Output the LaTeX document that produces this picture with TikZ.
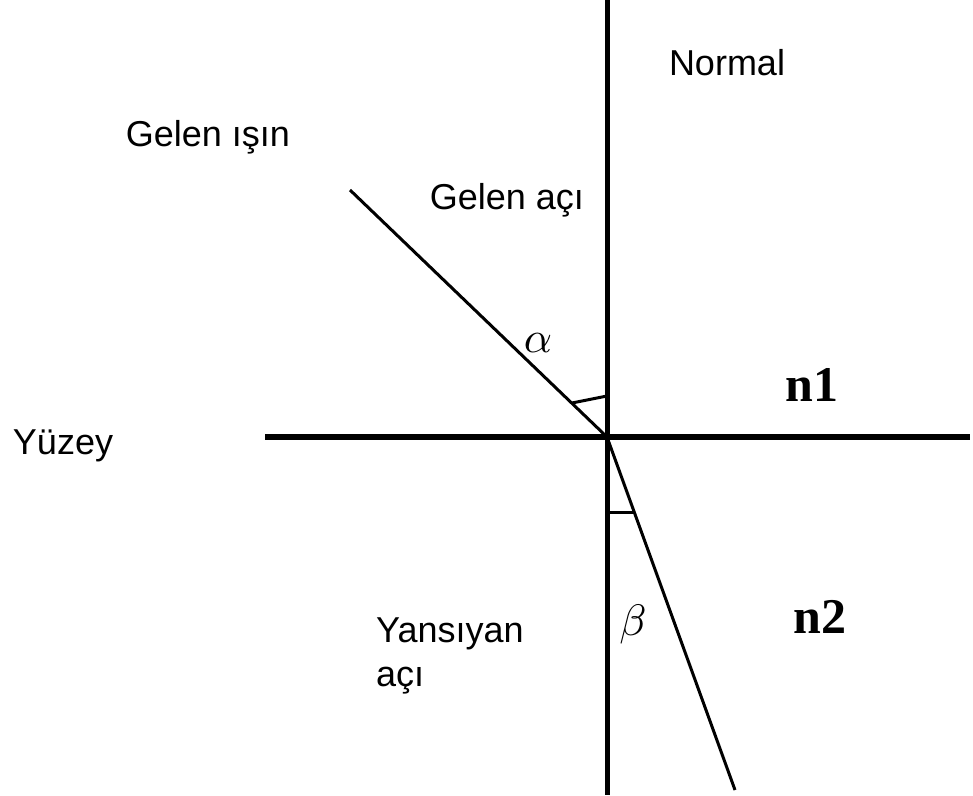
\documentclass[tikz,border=0pt]{standalone}
\usepackage{fontspec}
\setmainfont{Liberation Sans}
\newfontfamily\idxfont{Liberation Serif}
\tikzset{
    lbl/.style={font=\fontsize{36}{40}\selectfont, inner sep=0pt},
    idx/.style={font=\idxfont\bfseries\fontsize{50}{54}\selectfont, inner sep=0pt},
    ang/.style={font=\normalsize, scale=4.4, inner sep=0pt}
}
\begin{document}
\begin{tikzpicture}[x=1pt, y=-1pt]
    \useasboundingbox[fill=white] (0,0) rectangle (973,795);
    % points
    \coordinate (O) at (607,437);
    \coordinate (Ntop) at (607,0);
    \coordinate (Nbot) at (607,795);
    \coordinate (Sleft) at (265,437);
    \coordinate (Sright) at (970,437);
    \coordinate (Rin) at (350,190);
    \coordinate (Rout) at (735,790);
    % normal and surface
    \draw[line width=5pt] (Ntop) -- (Nbot);
    \draw[line width=6pt] (Sleft) -- (Sright);
    % rays
    \draw[line width=3pt] (Rin) -- (O);
    \draw[line width=3pt] (O) -- (Rout);
    % angle marks
    \draw[line width=3pt] (572,403) -- (607,396);
    \draw[line width=3pt] (607,512) -- (634,512);
    % labels
    \node[lbl] (normal) at (727,63) {Normal};
    \node[lbl] (gelenisin) at (208,137) {Gelen ışın};
    \node[lbl] (gelenaci) at (507,200) {Gelen açı};
    \node[lbl] (yuzey) at (63,446) {Yüzey};
    \node[lbl, anchor=west, align=left] (yansiyan) at (376,656) {Yansıyan\\[4pt]açı};
    \node[idx] (n1) at (812,385) {n1};
    \node[idx] (n2) at (820,617) {n2};
    \node[ang] (alpha) at (538,343) {$\alpha$};
    \node[ang] (beta) at (633,624) {$\beta$};
\end{tikzpicture}
\end{document}
